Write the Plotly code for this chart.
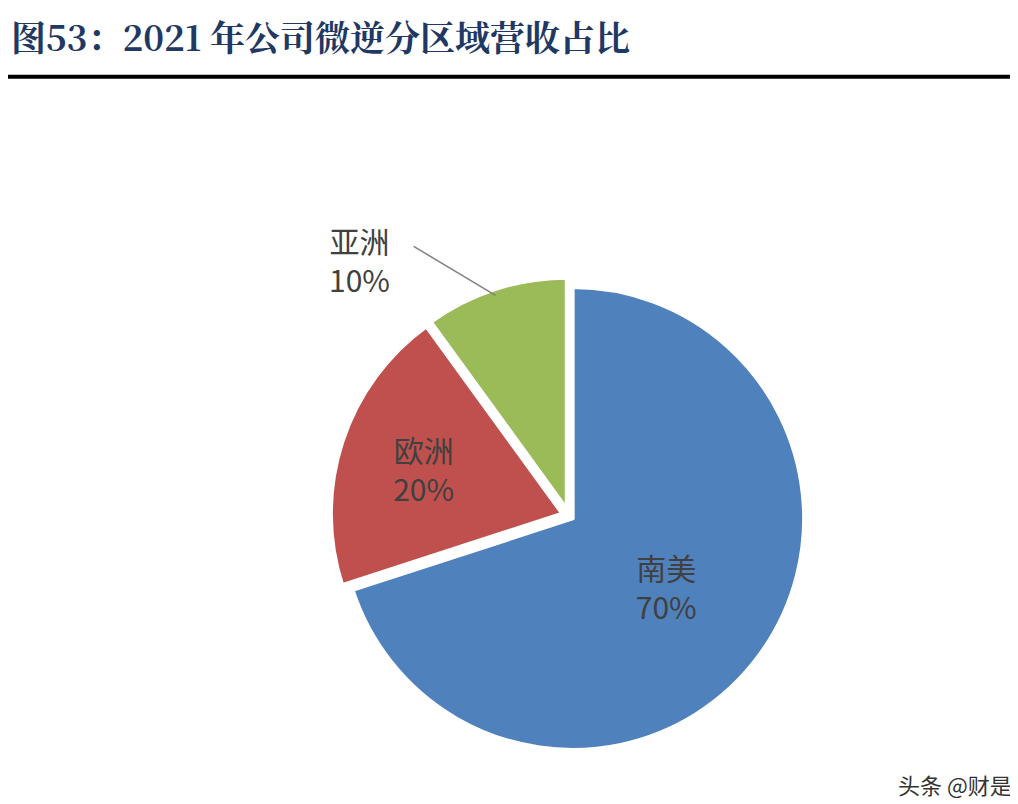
import plotly.graph_objects as go

labels = ["南美", "欧洲", "亚洲"]
values = [70, 20, 10]
colors = ["#4F81BD", "#C0504D", "#9BBB59"]
title = "图53：2021 年公司微逆分区域营收占比"

S = 0.978
def px(x):
    return (509 + (x - 509) / S) / 1018
def py(y):
    return 1 - (402 + (y - 402) / S) / 804

fig = go.Figure(go.Pie(
    labels=labels, values=values, sort=False, direction="clockwise", rotation=0,
    marker=dict(colors=colors, line=dict(color="white", width=4)),
    pull=[0.02, 0.03, 0.03],
    texttemplate=["%{label}<br>%{percent:.0%}", "%{label}<br>%{percent:.0%}", ""],
    textposition="inside", insidetextorientation="horizontal",
    textfont=dict(size=30, color="#404040", family="Noto Sans CJK SC"),
    showlegend=False, hoverinfo="label+percent",
    domain=dict(x=[0.315, 0.787], y=[0.072, 0.665]),
))
fig.add_annotation(x=px(355), y=py(255), xref="paper", yref="paper", yanchor="middle",
                   text=f"{labels[2]}<br>{values[2]}%", showarrow=False,
                   font=dict(size=30, color="#404040", family="Noto Sans CJK SC"))
fig.add_shape(type="line", xref="paper", yref="paper",
              x0=px(408), y0=py(242), x1=px(488), y1=py(290),
              line=dict(color="#808080", width=1.5))
fig.add_shape(type="line", xref="paper", yref="paper",
              x0=0, x1=1, y0=py(76), y1=py(76), line=dict(color="black", width=4))
fig.add_annotation(x=px(12), y=py(36), xref="paper", yref="paper", xanchor="left", yanchor="middle",
                   text=f"<b>{title}</b>", showarrow=False,
                   font=dict(size=35, color="#1F3864", family="Noto Serif CJK SC, Noto Sans CJK SC"))
fig.add_annotation(x=px(995), y=py(768), xref="paper", yref="paper", xanchor="right", yanchor="middle",
                   text="头条 @财是", showarrow=False,
                   font=dict(size=22, color="#333333", family="Noto Sans CJK SC"))
fig.update_layout(width=1018, height=804, margin=dict(l=0, r=0, t=0, b=0),
                  paper_bgcolor="white", plot_bgcolor="white")
fig.write_html("out.html")
